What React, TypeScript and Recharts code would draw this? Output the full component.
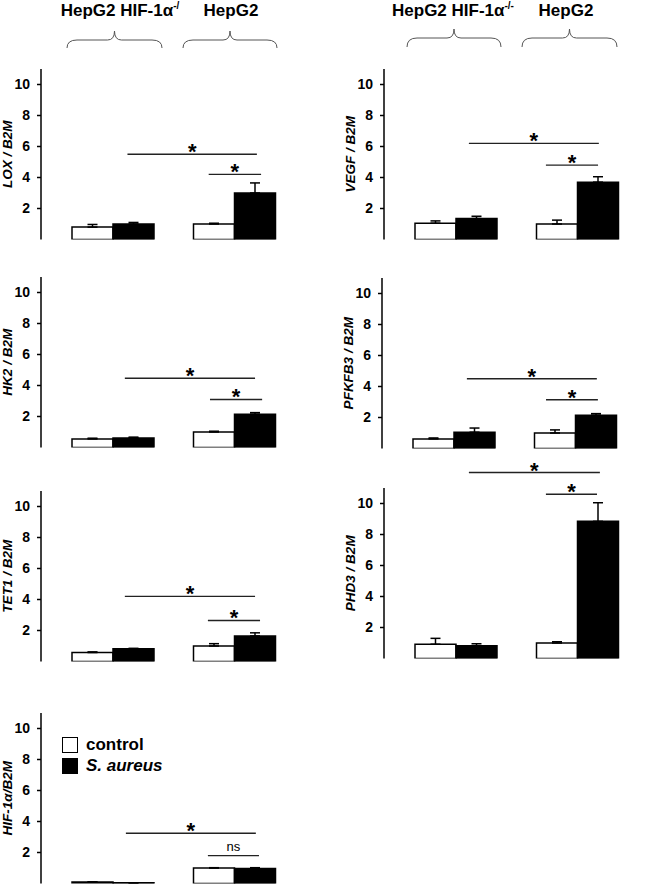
import React from 'react'
import { Bar, BarChart, ErrorBar, Legend, ReferenceLine, XAxis, YAxis } from 'recharts'

const groups = ['HepG2 HIF-1α-/-', 'HepG2']
const yTicks = [2, 4, 6, 8, 10]

// mean and upper error, [HIF-1α-/-, HepG2]
const loxControl = [0.8, 1.0]
const loxControlErr = [0.17, 0.05]
const loxAureus = [1.0, 3.0]
const loxAureusErr = [0.1, 0.65]

const vegfControl = [1.05, 1.0]
const vegfControlErr = [0.15, 0.25]
const vegfAureus = [1.35, 3.7]
const vegfAureusErr = [0.15, 0.35]

const hk2Control = [0.55, 1.0]
const hk2ControlErr = [0.05, 0.05]
const hk2Aureus = [0.62, 2.15]
const hk2AureusErr = [0.05, 0.1]

const pfkfb3Control = [0.62, 1.0]
const pfkfb3ControlErr = [0.06, 0.2]
const pfkfb3Aureus = [1.05, 2.15]
const pfkfb3AureusErr = [0.27, 0.1]

const tet1Control = [0.58, 1.0]
const tet1ControlErr = [0.04, 0.15]
const tet1Aureus = [0.82, 1.65]
const tet1AureusErr = [0.03, 0.2]

const phd3Control = [0.92, 1.0]
const phd3ControlErr = [0.38, 0.08]
const phd3Aureus = [0.82, 8.85]
const phd3AureusErr = [0.13, 1.2]

const hifControl = [0.1, 1.0]
const hifControlErr = [0, 0.02]
const hifAureus = [0.05, 0.97]
const hifAureusErr = [0, 0.05]

// significance brackets: [start, end] as a fraction of the axis, height, mark
type Bracket = [number, number, number, string]
const loxBrackets: Bracket[] = [[0.33, 0.824, 5.5, '*'], [0.64, 0.84, 4.2, '*']]
const vegfBrackets: Bracket[] = [[0.324, 0.82, 6.2, '*'], [0.618, 0.817, 4.8, '*']]
const hk2Brackets: Bracket[] = [[0.32, 0.817, 4.47, '*'], [0.645, 0.844, 3.1, '*']]
const pfkfb3Brackets: Bracket[] = [[0.324, 0.82, 4.5, '*'], [0.626, 0.824, 3.15, '*']]
const tet1Brackets: Bracket[] = [[0.32, 0.817, 4.2, '*'], [0.637, 0.836, 2.65, '*']]
const phd3Brackets: Bracket[] = [[0.324, 0.824, 12.0, '*'], [0.618, 0.813, 10.6, '*']]
const hifBrackets: Bracket[] = [[0.324, 0.82, 3.24, '*'], [0.637, 0.832, 1.8, 'ns']]

const FONT = '"Liberation Sans", Arial, sans-serif'
const PLOT_H = 170.5
const MT = 40

interface PanelProps {
  left: number
  zeroY: number
  label: string
  control: number[]
  controlErr: number[]
  aureus: number[]
  aureusErr: number[]
  brackets: Bracket[]
  legend?: boolean
}

const sigLabel = (text: string) => (props: any) => {
  const vb = props.viewBox
  const cx = vb.x + vb.width / 2
  if (text === 'ns') {
    return (
      <text x={cx} y={vb.y - 5} textAnchor="middle" fontSize={13} fontFamily={FONT} fill="#000">
        ns
      </text>
    )
  }
  return (
    <text x={cx} y={vb.y + 5} textAnchor="middle" fontSize={22} fontWeight="bold" fontFamily={FONT} fill="#000">
      *
    </text>
  )
}

const LegendBox = () => (
  <div style={{ fontFamily: FONT, fontWeight: 'bold', fontSize: 17, color: '#000' }}>
    {[
      { name: 'control', fill: '#fff', italic: false },
      { name: 'S. aureus', fill: '#000', italic: true },
    ].map((item) => (
      <div key={item.name} style={{ display: 'flex', alignItems: 'center', height: 21 }}>
        <span
          style={{
            display: 'inline-block',
            width: 14,
            height: 14,
            border: '1.5px solid #000',
            background: item.fill,
            marginRight: 8,
          }}
        />
        <span style={{ fontStyle: item.italic ? 'italic' : 'normal' }}>{item.name}</span>
      </div>
    ))}
  </div>
)

const Panel = ({ left, zeroY, label, control, controlErr, aureus, aureusErr, brackets, legend }: PanelProps) => {
  const data = groups.map((g, i) => ({
    group: g,
    control: control[i],
    controlErr: [0, controlErr[i]],
    aureus: aureus[i],
    aureusErr: [0, aureusErr[i]],
  }))

  return (
    <div style={{ position: 'absolute', left, top: zeroY - PLOT_H - MT }}>
      <BarChart
        width={310}
        height={MT + PLOT_H + 10}
        data={data}
        margin={{ top: MT, right: 7, bottom: 4, left: 0 }}
        barCategoryGap={20}
        barGap={0}
      >
        <XAxis dataKey="group" hide padding={{ left: 11, right: 8 }} />
        <XAxis
          xAxisId="frac"
          dataKey="frac"
          type="number"
          domain={[0, 1]}
          allowDataOverflow
          ticks={[0, 1]}
          tick={false}
          tickSize={4}
          height={6}
          axisLine={{ stroke: '#000', strokeWidth: 1.5 }}
          tickLine={{ stroke: '#000', strokeWidth: 1.2 }}
        />
        <YAxis
          domain={[0, 11]}
          ticks={yTicks}
          allowDataOverflow
          width={41}
          tickSize={4}
          tickMargin={7}
          tick={{ fill: '#000', fontSize: 14, fontWeight: 'bold', fontFamily: FONT }}
          axisLine={{ stroke: '#000', strokeWidth: 1.5 }}
          tickLine={{ stroke: '#000', strokeWidth: 1.5 }}
          label={(p: any) => {
            const vb = p.viewBox
            const x = vb.x + 12
            const y = vb.y + vb.height / 2
            return (
              <text
                x={x}
                y={y}
                transform={`rotate(-90 ${x} ${y})`}
                textAnchor="middle"
                fontSize={13.5}
                fontWeight="bold"
                fontStyle="italic"
                fontFamily={FONT}
                fill="#000"
              >
                {label}
              </text>
            )
          }}
        />
        <Bar dataKey="control" name="control" fill="#fff" stroke="#000" strokeWidth={1.5} isAnimationActive={false}>
          <ErrorBar dataKey="controlErr" direction="y" width={5} stroke="#000" strokeWidth={1.5} isAnimationActive={false} />
        </Bar>
        <Bar dataKey="aureus" name="S. aureus" fill="#000" stroke="#000" strokeWidth={1.5} isAnimationActive={false}>
          <ErrorBar dataKey="aureusErr" direction="y" width={5} stroke="#000" strokeWidth={1.5} isAnimationActive={false} />
        </Bar>
        {brackets.map(([a, b, h, t], i) => (
          <ReferenceLine
            key={i}
            xAxisId="frac"
            segment={[{ x: a, y: h }, { x: b, y: h }]}
            ifOverflow="visible"
            stroke="#222"
            strokeWidth={1.4}
            label={sigLabel(t)}
          />
        ))}
        {legend && (
          <Legend
            layout="vertical"
            align="center"
            verticalAlign="middle"
            content={() => <LegendBox />}
            wrapperStyle={{ left: 62, top: 61, width: 160, height: 44 }}
          />
        )}
      </BarChart>
    </div>
  )
}

const Brace = ({ x1, x2, tip, bar, end }: { x1: number; x2: number; tip: number; bar: number; end: number }) => {
  const m = (x1 + x2) / 2
  const d = `M${x1},${end} Q${x1},${bar} ${x1 + 10},${bar} L${m - 7},${bar} Q${m},${bar} ${m},${tip} Q${m},${bar} ${m + 7},${bar} L${x2 - 10},${bar} Q${x2},${bar} ${x2},${end}`
  return <path d={d} fill="none" stroke="#555" strokeWidth={1} />
}

const Header = () => (
  <svg width={650} height={60} style={{ position: 'absolute', left: 0, top: 0 }}>
    <g fontFamily={FONT} fontWeight="bold" fontSize={17} fill="#000" textAnchor="middle">
      <text x={120} y={16}>
        HepG2 HIF-1α<tspan fontSize={10} dy={-7}>-/</tspan>
      </text>
      <text x={231} y={16}>HepG2</text>
      <text x={453} y={16}>
        HepG2 HIF-1α<tspan fontSize={10} dy={-7}>-/-</tspan>
      </text>
      <text x={566} y={16}>HepG2</text>
    </g>
    <Brace x1={67} x2={162} tip={31} bar={40} end={48} />
    <Brace x1={183} x2={277} tip={31} bar={40} end={48} />
    <Brace x1={407} x2={501} tip={29} bar={38} end={47} />
    <Brace x1={522} x2={617} tip={29} bar={38} end={47} />
  </svg>
)

export default function App() {
  return (
    <div style={{ position: 'absolute', left: 0, top: 0, width: 650, height: 889, overflow: 'hidden', background: '#fff' }}>
      <Header />
      <Panel left={0} zeroY={239} label="LOX / B2M" control={loxControl} controlErr={loxControlErr} aureus={loxAureus} aureusErr={loxAureusErr} brackets={loxBrackets} />
      <Panel left={343} zeroY={239} label="VEGF / B2M" control={vegfControl} controlErr={vegfControlErr} aureus={vegfAureus} aureusErr={vegfAureusErr} brackets={vegfBrackets} />
      <Panel left={0} zeroY={447} label="HK2 / B2M" control={hk2Control} controlErr={hk2ControlErr} aureus={hk2Aureus} aureusErr={hk2AureusErr} brackets={hk2Brackets} />
      <Panel left={341} zeroY={448} label="PFKFB3 / B2M" control={pfkfb3Control} controlErr={pfkfb3ControlErr} aureus={pfkfb3Aureus} aureusErr={pfkfb3AureusErr} brackets={pfkfb3Brackets} />
      <Panel left={0} zeroY={661} label="TET1 / B2M" control={tet1Control} controlErr={tet1ControlErr} aureus={tet1Aureus} aureusErr={tet1AureusErr} brackets={tet1Brackets} />
      <Panel left={343} zeroY={658} label="PHD3 / B2M" control={phd3Control} controlErr={phd3ControlErr} aureus={phd3Aureus} aureusErr={phd3AureusErr} brackets={phd3Brackets} />
      <Panel left={0} zeroY={883.5} label="HIF-1α/B2M" control={hifControl} controlErr={hifControlErr} aureus={hifAureus} aureusErr={hifAureusErr} brackets={hifBrackets} legend />
    </div>
  )
}
